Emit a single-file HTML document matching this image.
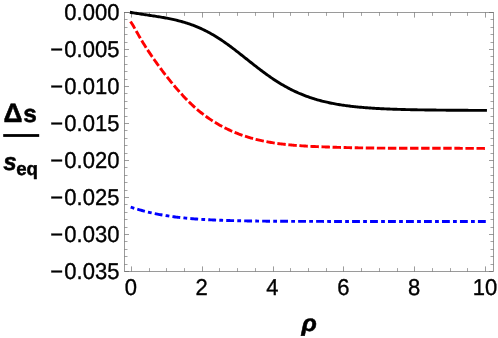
<!DOCTYPE html>
<html><head><meta charset="utf-8"><style>
html,body{margin:0;padding:0;background:#fff;}
svg{display:block;text-rendering:geometricPrecision;will-change:transform;font-family:"Liberation Sans",sans-serif;}
</style></head><body>
<svg width="498" height="338" viewBox="0 0 498 338">
<rect width="498" height="338" fill="#fff"/>
<rect x="124.5" y="12.5" width="369.0" height="259.0" fill="none" stroke="#666" stroke-width="0.65"/>
<path d="M131.50,271.5 v-5.1 M131.50,12.5 v5.1 M202.50,271.5 v-5.1 M202.50,12.5 v5.1 M273.50,271.5 v-5.1 M273.50,12.5 v5.1 M343.50,271.5 v-5.1 M343.50,12.5 v5.1 M414.50,271.5 v-5.1 M414.50,12.5 v5.1 M485.50,271.5 v-5.1 M485.50,12.5 v5.1 M124.5,12.50 h4.5 M493.5,12.50 h-4.5 M124.5,49.50 h4.5 M493.5,49.50 h-4.5 M124.5,86.50 h4.5 M493.5,86.50 h-4.5 M124.5,123.50 h4.5 M493.5,123.50 h-4.5 M124.5,160.50 h4.5 M493.5,160.50 h-4.5 M124.5,197.50 h4.5 M493.5,197.50 h-4.5 M124.5,234.50 h4.5 M493.5,234.50 h-4.5 M124.5,271.50 h4.5 M493.5,271.50 h-4.5" fill="none" stroke="#666" stroke-width="0.65"/>
<path d="M149.50,271.5 v-3.4 M149.50,12.5 v3.4 M166.50,271.5 v-3.4 M166.50,12.5 v3.4 M184.50,271.5 v-3.4 M184.50,12.5 v3.4 M219.50,271.5 v-3.4 M219.50,12.5 v3.4 M237.50,271.5 v-3.4 M237.50,12.5 v3.4 M255.50,271.5 v-3.4 M255.50,12.5 v3.4 M290.50,271.5 v-3.4 M290.50,12.5 v3.4 M308.50,271.5 v-3.4 M308.50,12.5 v3.4 M326.50,271.5 v-3.4 M326.50,12.5 v3.4 M361.50,271.5 v-3.4 M361.50,12.5 v3.4 M379.50,271.5 v-3.4 M379.50,12.5 v3.4 M397.50,271.5 v-3.4 M397.50,12.5 v3.4 M432.50,271.5 v-3.4 M432.50,12.5 v3.4 M450.50,271.5 v-3.4 M450.50,12.5 v3.4 M467.50,271.5 v-3.4 M467.50,12.5 v3.4 M124.5,19.50 h3.0 M493.5,19.50 h-3.0 M124.5,27.50 h3.0 M493.5,27.50 h-3.0 M124.5,34.50 h3.0 M493.5,34.50 h-3.0 M124.5,42.50 h3.0 M493.5,42.50 h-3.0 M124.5,56.50 h3.0 M493.5,56.50 h-3.0 M124.5,64.50 h3.0 M493.5,64.50 h-3.0 M124.5,71.50 h3.0 M493.5,71.50 h-3.0 M124.5,79.50 h3.0 M493.5,79.50 h-3.0 M124.5,93.50 h3.0 M493.5,93.50 h-3.0 M124.5,101.50 h3.0 M493.5,101.50 h-3.0 M124.5,108.50 h3.0 M493.5,108.50 h-3.0 M124.5,116.50 h3.0 M493.5,116.50 h-3.0 M124.5,130.50 h3.0 M493.5,130.50 h-3.0 M124.5,138.50 h3.0 M493.5,138.50 h-3.0 M124.5,145.50 h3.0 M493.5,145.50 h-3.0 M124.5,153.50 h3.0 M493.5,153.50 h-3.0 M124.5,167.50 h3.0 M493.5,167.50 h-3.0 M124.5,175.50 h3.0 M493.5,175.50 h-3.0 M124.5,182.50 h3.0 M493.5,182.50 h-3.0 M124.5,190.50 h3.0 M493.5,190.50 h-3.0 M124.5,204.50 h3.0 M493.5,204.50 h-3.0 M124.5,212.50 h3.0 M493.5,212.50 h-3.0 M124.5,219.50 h3.0 M493.5,219.50 h-3.0 M124.5,227.50 h3.0 M493.5,227.50 h-3.0 M124.5,241.50 h3.0 M493.5,241.50 h-3.0 M124.5,249.50 h3.0 M493.5,249.50 h-3.0 M124.5,256.50 h3.0 M493.5,256.50 h-3.0 M124.5,264.50 h3.0 M493.5,264.50 h-3.0" fill="none" stroke="#666" stroke-width="0.6"/>
<path d="M131.30,12.50 L132.48,12.71 L133.67,12.91 L134.85,13.10 L136.04,13.30 L137.22,13.49 L138.41,13.68 L139.59,13.86 L140.78,14.04 L141.96,14.23 L143.15,14.41 L144.33,14.58 L145.52,14.76 L146.70,14.94 L147.88,15.11 L149.07,15.29 L150.25,15.47 L151.44,15.64 L152.62,15.82 L153.81,16.00 L154.99,16.19 L156.18,16.37 L157.36,16.56 L158.55,16.75 L159.73,16.94 L160.92,17.14 L162.10,17.34 L163.28,17.55 L164.47,17.76 L165.65,17.97 L166.84,18.19 L168.02,18.42 L169.21,18.65 L170.39,18.89 L171.58,19.14 L172.76,19.40 L173.95,19.66 L175.13,19.93 L176.32,20.21 L177.50,20.49 L178.68,20.79 L179.87,21.10 L181.05,21.42 L182.24,21.74 L183.42,22.08 L184.61,22.43 L185.79,22.79 L186.98,23.16 L188.16,23.55 L189.35,23.95 L190.53,24.35 L191.72,24.78 L192.90,25.21 L194.08,25.66 L195.27,26.13 L196.45,26.61 L197.64,27.10 L198.82,27.60 L200.01,28.12 L201.19,28.66 L202.38,29.21 L203.56,29.78 L204.75,30.36 L205.93,30.96 L207.12,31.57 L208.30,32.19 L209.48,32.84 L210.67,33.49 L211.85,34.16 L213.04,34.85 L214.22,35.55 L215.41,36.27 L216.59,37.00 L217.78,37.75 L218.96,38.51 L220.15,39.28 L221.33,40.06 L222.52,40.86 L223.70,41.67 L224.88,42.50 L226.07,43.33 L227.25,44.18 L228.44,45.03 L229.62,45.90 L230.81,46.78 L231.99,47.66 L233.18,48.56 L234.36,49.46 L235.55,50.36 L236.73,51.28 L237.92,52.20 L239.10,53.13 L240.28,54.05 L241.47,54.99 L242.65,55.93 L243.84,56.86 L245.02,57.80 L246.21,58.75 L247.39,59.69 L248.58,60.63 L249.76,61.57 L250.95,62.51 L252.13,63.44 L253.32,64.37 L254.50,65.30 L255.68,66.23 L256.87,67.15 L258.05,68.06 L259.24,68.97 L260.42,69.87 L261.61,70.76 L262.79,71.64 L263.98,72.52 L265.16,73.39 L266.35,74.25 L267.53,75.09 L268.72,75.93 L269.90,76.76 L271.08,77.58 L272.27,78.38 L273.45,79.18 L274.64,79.96 L275.82,80.73 L277.01,81.49 L278.19,82.24 L279.38,82.97 L280.56,83.69 L281.75,84.40 L282.93,85.10 L284.12,85.78 L285.30,86.45 L286.48,87.10 L287.67,87.75 L288.85,88.38 L290.04,88.99 L291.22,89.60 L292.41,90.19 L293.59,90.77 L294.78,91.33 L295.96,91.88 L297.15,92.42 L298.33,92.95 L299.52,93.46 L300.70,93.96 L301.88,94.45 L303.07,94.93 L304.25,95.39 L305.44,95.85 L306.62,96.29 L307.81,96.72 L308.99,97.14 L310.18,97.54 L311.36,97.94 L312.55,98.33 L313.73,98.70 L314.92,99.07 L316.10,99.42 L317.28,99.77 L318.47,100.10 L319.65,100.43 L320.84,100.74 L322.02,101.05 L323.21,101.35 L324.39,101.64 L325.58,101.92 L326.76,102.19 L327.95,102.46 L329.13,102.72 L330.32,102.97 L331.50,103.21 L332.68,103.44 L333.87,103.67 L335.05,103.89 L336.24,104.10 L337.42,104.31 L338.61,104.51 L339.79,104.70 L340.98,104.89 L342.16,105.07 L343.35,105.25 L344.53,105.42 L345.72,105.59 L346.90,105.75 L348.08,105.90 L349.27,106.05 L350.45,106.20 L351.64,106.34 L352.82,106.48 L354.01,106.61 L355.19,106.73 L356.38,106.86 L357.56,106.98 L358.75,107.09 L359.93,107.20 L361.12,107.31 L362.30,107.42 L363.48,107.52 L364.67,107.61 L365.85,107.71 L367.04,107.80 L368.22,107.89 L369.41,107.97 L370.59,108.06 L371.78,108.14 L372.96,108.21 L374.15,108.29 L375.33,108.36 L376.52,108.43 L377.70,108.50 L378.88,108.56 L380.07,108.62 L381.25,108.68 L382.44,108.74 L383.62,108.80 L384.81,108.85 L385.99,108.91 L387.18,108.96 L388.36,109.01 L389.55,109.06 L390.73,109.10 L391.92,109.15 L393.10,109.19 L394.28,109.23 L395.47,109.27 L396.65,109.31 L397.84,109.35 L399.02,109.38 L400.21,109.42 L401.39,109.45 L402.58,109.49 L403.76,109.52 L404.95,109.55 L406.13,109.58 L407.32,109.61 L408.50,109.63 L409.68,109.66 L410.87,109.69 L412.05,109.71 L413.24,109.74 L414.42,109.76 L415.61,109.78 L416.79,109.80 L417.98,109.83 L419.16,109.85 L420.35,109.87 L421.53,109.89 L422.72,109.90 L423.90,109.92 L425.08,109.94 L426.27,109.96 L427.45,109.97 L428.64,109.99 L429.82,110.00 L431.01,110.02 L432.19,110.03 L433.38,110.05 L434.56,110.06 L435.75,110.07 L436.93,110.09 L438.12,110.10 L439.30,110.11 L440.48,110.12 L441.67,110.13 L442.85,110.15 L444.04,110.16 L445.22,110.17 L446.41,110.18 L447.59,110.19 L448.78,110.20 L449.96,110.20 L451.15,110.21 L452.33,110.22 L453.52,110.23 L454.70,110.24 L455.88,110.25 L457.07,110.26 L458.25,110.26 L459.44,110.27 L460.62,110.28 L461.81,110.29 L462.99,110.29 L464.18,110.30 L465.36,110.31 L466.55,110.31 L467.73,110.32 L468.92,110.33 L470.10,110.33 L471.28,110.34 L472.47,110.34 L473.65,110.35 L474.84,110.36 L476.02,110.36 L477.21,110.37 L478.39,110.37 L479.58,110.38 L480.76,110.38 L481.95,110.39 L483.13,110.39 L484.32,110.40 L485.50,110.40" fill="none" stroke="#000" stroke-width="2.9" stroke-linecap="square" stroke-linejoin="round"/>
<path d="M131.30,22.63 L132.48,24.60 L133.67,26.61 L134.85,28.65 L136.04,30.71 L137.22,32.79 L138.41,34.86 L139.59,36.92 L140.78,38.95 L141.96,40.95 L143.15,42.91 L144.33,44.83 L145.52,46.71 L146.70,48.55 L147.88,50.36 L149.07,52.15 L150.25,53.90 L151.44,55.64 L152.62,57.36 L153.81,59.06 L154.99,60.75 L156.18,62.41 L157.36,64.06 L158.55,65.70 L159.73,67.32 L160.92,68.92 L162.10,70.50 L163.28,72.07 L164.47,73.62 L165.65,75.15 L166.84,76.67 L168.02,78.17 L169.21,79.66 L170.39,81.13 L171.58,82.58 L172.76,84.02 L173.95,85.44 L175.13,86.84 L176.32,88.22 L177.50,89.59 L178.68,90.94 L179.87,92.27 L181.05,93.59 L182.24,94.88 L183.42,96.15 L184.61,97.41 L185.79,98.64 L186.98,99.86 L188.16,101.05 L189.35,102.23 L190.53,103.38 L191.72,104.51 L192.90,105.62 L194.08,106.70 L195.27,107.77 L196.45,108.81 L197.64,109.83 L198.82,110.82 L200.01,111.80 L201.19,112.75 L202.38,113.68 L203.56,114.59 L204.75,115.48 L205.93,116.35 L207.12,117.21 L208.30,118.04 L209.48,118.85 L210.67,119.65 L211.85,120.43 L213.04,121.19 L214.22,121.93 L215.41,122.65 L216.59,123.36 L217.78,124.06 L218.96,124.73 L220.15,125.40 L221.33,126.04 L222.52,126.68 L223.70,127.29 L224.88,127.90 L226.07,128.49 L227.25,129.07 L228.44,129.63 L229.62,130.18 L230.81,130.72 L231.99,131.24 L233.18,131.75 L234.36,132.25 L235.55,132.74 L236.73,133.21 L237.92,133.67 L239.10,134.13 L240.28,134.56 L241.47,134.99 L242.65,135.41 L243.84,135.81 L245.02,136.21 L246.21,136.59 L247.39,136.96 L248.58,137.33 L249.76,137.68 L250.95,138.02 L252.13,138.36 L253.32,138.68 L254.50,138.99 L255.68,139.30 L256.87,139.59 L258.05,139.88 L259.24,140.16 L260.42,140.43 L261.61,140.69 L262.79,140.94 L263.98,141.18 L265.16,141.42 L266.35,141.65 L267.53,141.87 L268.72,142.09 L269.90,142.29 L271.08,142.49 L272.27,142.69 L273.45,142.88 L274.64,143.06 L275.82,143.23 L277.01,143.40 L278.19,143.56 L279.38,143.72 L280.56,143.87 L281.75,144.02 L282.93,144.16 L284.12,144.29 L285.30,144.42 L286.48,144.55 L287.67,144.67 L288.85,144.79 L290.04,144.90 L291.22,145.01 L292.41,145.12 L293.59,145.22 L294.78,145.32 L295.96,145.41 L297.15,145.50 L298.33,145.59 L299.52,145.68 L300.70,145.76 L301.88,145.84 L303.07,145.91 L304.25,145.99 L305.44,146.06 L306.62,146.13 L307.81,146.19 L308.99,146.26 L310.18,146.32 L311.36,146.38 L312.55,146.43 L313.73,146.49 L314.92,146.54 L316.10,146.59 L317.28,146.64 L318.47,146.69 L319.65,146.74 L320.84,146.79 L322.02,146.83 L323.21,146.88 L324.39,146.92 L325.58,146.97 L326.76,147.01 L327.95,147.05 L329.13,147.09 L330.32,147.13 L331.50,147.17 L332.68,147.21 L333.87,147.24 L335.05,147.28 L336.24,147.31 L337.42,147.35 L338.61,147.38 L339.79,147.42 L340.98,147.45 L342.16,147.48 L343.35,147.51 L344.53,147.54 L345.72,147.57 L346.90,147.60 L348.08,147.62 L349.27,147.65 L350.45,147.68 L351.64,147.70 L352.82,147.73 L354.01,147.75 L355.19,147.77 L356.38,147.80 L357.56,147.82 L358.75,147.84 L359.93,147.86 L361.12,147.88 L362.30,147.90 L363.48,147.92 L364.67,147.94 L365.85,147.96 L367.04,147.97 L368.22,147.99 L369.41,148.01 L370.59,148.02 L371.78,148.04 L372.96,148.05 L374.15,148.07 L375.33,148.08 L376.52,148.09 L377.70,148.10 L378.88,148.12 L380.07,148.13 L381.25,148.14 L382.44,148.15 L383.62,148.16 L384.81,148.17 L385.99,148.18 L387.18,148.19 L388.36,148.20 L389.55,148.20 L390.73,148.21 L391.92,148.22 L393.10,148.23 L394.28,148.23 L395.47,148.24 L396.65,148.24 L397.84,148.25 L399.02,148.25 L400.21,148.26 L401.39,148.26 L402.58,148.27 L403.76,148.27 L404.95,148.28 L406.13,148.28 L407.32,148.28 L408.50,148.29 L409.68,148.29 L410.87,148.29 L412.05,148.29 L413.24,148.30 L414.42,148.30 L415.61,148.30 L416.79,148.30 L417.98,148.30 L419.16,148.30 L420.35,148.31 L421.53,148.31 L422.72,148.31 L423.90,148.31 L425.08,148.31 L426.27,148.31 L427.45,148.31 L428.64,148.31 L429.82,148.31 L431.01,148.31 L432.19,148.31 L433.38,148.31 L434.56,148.31 L435.75,148.31 L436.93,148.31 L438.12,148.31 L439.30,148.31 L440.48,148.31 L441.67,148.31 L442.85,148.31 L444.04,148.31 L445.22,148.31 L446.41,148.31 L447.59,148.31 L448.78,148.31 L449.96,148.31 L451.15,148.32 L452.33,148.32 L453.52,148.32 L454.70,148.32 L455.88,148.32 L457.07,148.32 L458.25,148.32 L459.44,148.32 L460.62,148.33 L461.81,148.33 L462.99,148.33 L464.18,148.33 L465.36,148.34 L466.55,148.34 L467.73,148.34 L468.92,148.35 L470.10,148.35 L471.28,148.35 L472.47,148.36 L473.65,148.36 L474.84,148.37 L476.02,148.37 L477.21,148.38 L478.39,148.38 L479.58,148.39 L480.76,148.40 L481.95,148.40 L483.13,148.41 L484.32,148.42 L485.50,148.42" fill="none" stroke="#f00" stroke-width="2.9" stroke-dasharray="5.536 5.536" stroke-linecap="square" stroke-linejoin="round"/>
<path d="M131.30,207.32 L132.48,207.70 L133.67,208.08 L134.85,208.45 L136.04,208.81 L137.22,209.17 L138.41,209.52 L139.59,209.86 L140.78,210.19 L141.96,210.52 L143.15,210.83 L144.33,211.15 L145.52,211.45 L146.70,211.75 L147.88,212.04 L149.07,212.32 L150.25,212.59 L151.44,212.86 L152.62,213.12 L153.81,213.38 L154.99,213.63 L156.18,213.87 L157.36,214.11 L158.55,214.34 L159.73,214.56 L160.92,214.78 L162.10,214.99 L163.28,215.19 L164.47,215.39 L165.65,215.59 L166.84,215.77 L168.02,215.96 L169.21,216.13 L170.39,216.31 L171.58,216.47 L172.76,216.64 L173.95,216.79 L175.13,216.95 L176.32,217.10 L177.50,217.24 L178.68,217.38 L179.87,217.51 L181.05,217.65 L182.24,217.77 L183.42,217.90 L184.61,218.02 L185.79,218.13 L186.98,218.24 L188.16,218.35 L189.35,218.46 L190.53,218.56 L191.72,218.66 L192.90,218.75 L194.08,218.84 L195.27,218.93 L196.45,219.02 L197.64,219.10 L198.82,219.18 L200.01,219.26 L201.19,219.34 L202.38,219.41 L203.56,219.48 L204.75,219.55 L205.93,219.62 L207.12,219.68 L208.30,219.74 L209.48,219.80 L210.67,219.86 L211.85,219.91 L213.04,219.97 L214.22,220.02 L215.41,220.07 L216.59,220.12 L217.78,220.17 L218.96,220.21 L220.15,220.26 L221.33,220.30 L222.52,220.34 L223.70,220.38 L224.88,220.42 L226.07,220.45 L227.25,220.49 L228.44,220.52 L229.62,220.56 L230.81,220.59 L231.99,220.62 L233.18,220.65 L234.36,220.68 L235.55,220.71 L236.73,220.73 L237.92,220.76 L239.10,220.79 L240.28,220.81 L241.47,220.83 L242.65,220.86 L243.84,220.88 L245.02,220.90 L246.21,220.92 L247.39,220.94 L248.58,220.96 L249.76,220.98 L250.95,220.99 L252.13,221.01 L253.32,221.03 L254.50,221.04 L255.68,221.06 L256.87,221.07 L258.05,221.09 L259.24,221.10 L260.42,221.12 L261.61,221.13 L262.79,221.14 L263.98,221.15 L265.16,221.16 L266.35,221.18 L267.53,221.19 L268.72,221.20 L269.90,221.21 L271.08,221.22 L272.27,221.23 L273.45,221.23 L274.64,221.24 L275.82,221.25 L277.01,221.26 L278.19,221.27 L279.38,221.27 L280.56,221.28 L281.75,221.29 L282.93,221.30 L284.12,221.30 L285.30,221.31 L286.48,221.31 L287.67,221.32 L288.85,221.33 L290.04,221.33 L291.22,221.34 L292.41,221.34 L293.59,221.35 L294.78,221.35 L295.96,221.36 L297.15,221.36 L298.33,221.36 L299.52,221.37 L300.70,221.37 L301.88,221.38 L303.07,221.38 L304.25,221.38 L305.44,221.39 L306.62,221.39 L307.81,221.39 L308.99,221.40 L310.18,221.40 L311.36,221.40 L312.55,221.41 L313.73,221.41 L314.92,221.41 L316.10,221.41 L317.28,221.42 L318.47,221.42 L319.65,221.42 L320.84,221.42 L322.02,221.42 L323.21,221.43 L324.39,221.43 L325.58,221.43 L326.76,221.43 L327.95,221.43 L329.13,221.44 L330.32,221.44 L331.50,221.44 L332.68,221.44 L333.87,221.44 L335.05,221.44 L336.24,221.44 L337.42,221.45 L338.61,221.45 L339.79,221.45 L340.98,221.45 L342.16,221.45 L343.35,221.45 L344.53,221.45 L345.72,221.45 L346.90,221.45 L348.08,221.46 L349.27,221.46 L350.45,221.46 L351.64,221.46 L352.82,221.46 L354.01,221.46 L355.19,221.46 L356.38,221.46 L357.56,221.46 L358.75,221.46 L359.93,221.46 L361.12,221.46 L362.30,221.46 L363.48,221.47 L364.67,221.47 L365.85,221.47 L367.04,221.47 L368.22,221.47 L369.41,221.47 L370.59,221.47 L371.78,221.47 L372.96,221.47 L374.15,221.47 L375.33,221.47 L376.52,221.47 L377.70,221.47 L378.88,221.47 L380.07,221.47 L381.25,221.47 L382.44,221.47 L383.62,221.47 L384.81,221.47 L385.99,221.47 L387.18,221.47 L388.36,221.47 L389.55,221.47 L390.73,221.47 L391.92,221.47 L393.10,221.47 L394.28,221.47 L395.47,221.48 L396.65,221.48 L397.84,221.48 L399.02,221.48 L400.21,221.48 L401.39,221.48 L402.58,221.48 L403.76,221.48 L404.95,221.48 L406.13,221.48 L407.32,221.48 L408.50,221.48 L409.68,221.48 L410.87,221.48 L412.05,221.48 L413.24,221.48 L414.42,221.48 L415.61,221.48 L416.79,221.48 L417.98,221.48 L419.16,221.48 L420.35,221.48 L421.53,221.48 L422.72,221.48 L423.90,221.48 L425.08,221.48 L426.27,221.48 L427.45,221.48 L428.64,221.48 L429.82,221.48 L431.01,221.48 L432.19,221.48 L433.38,221.48 L434.56,221.48 L435.75,221.48 L436.93,221.48 L438.12,221.48 L439.30,221.48 L440.48,221.48 L441.67,221.48 L442.85,221.48 L444.04,221.48 L445.22,221.48 L446.41,221.48 L447.59,221.48 L448.78,221.48 L449.96,221.48 L451.15,221.48 L452.33,221.48 L453.52,221.48 L454.70,221.48 L455.88,221.48 L457.07,221.48 L458.25,221.48 L459.44,221.48 L460.62,221.48 L461.81,221.48 L462.99,221.48 L464.18,221.48 L465.36,221.48 L466.55,221.48 L467.73,221.48 L468.92,221.48 L470.10,221.48 L471.28,221.48 L472.47,221.48 L473.65,221.48 L474.84,221.48 L476.02,221.48 L477.21,221.48 L478.39,221.48 L479.58,221.48 L480.76,221.48 L481.95,221.48 L483.13,221.48 L484.32,221.48 L485.50,221.48" fill="none" stroke="#00f" stroke-width="2.9" stroke-dasharray="0.9 6.02 4.96 6.1" stroke-dashoffset="-0.8" stroke-linecap="square" stroke-linejoin="round"/>
<g font-size="22" fill="#000" stroke="#000" stroke-width="0.35" opacity="0.999">
<text transform="translate(119.4,19.80) scale(1,1.04)" text-anchor="end">0.000</text>
<text transform="translate(119.4,56.50) scale(1,1.04)" text-anchor="end">0.005</text>
<text transform="translate(63.2,56.50) scale(1,1.04)" text-anchor="end">−</text>
<text transform="translate(119.4,93.50) scale(1,1.04)" text-anchor="end">0.010</text>
<text transform="translate(63.2,93.50) scale(1,1.04)" text-anchor="end">−</text>
<text transform="translate(119.4,130.50) scale(1,1.04)" text-anchor="end">0.015</text>
<text transform="translate(63.2,130.50) scale(1,1.04)" text-anchor="end">−</text>
<text transform="translate(119.4,167.50) scale(1,1.04)" text-anchor="end">0.020</text>
<text transform="translate(63.2,167.50) scale(1,1.04)" text-anchor="end">−</text>
<text transform="translate(119.4,204.50) scale(1,1.04)" text-anchor="end">0.025</text>
<text transform="translate(63.2,204.50) scale(1,1.04)" text-anchor="end">−</text>
<text transform="translate(119.4,241.50) scale(1,1.04)" text-anchor="end">0.030</text>
<text transform="translate(63.2,241.50) scale(1,1.04)" text-anchor="end">−</text>
<text transform="translate(119.4,278.50) scale(1,1.04)" text-anchor="end">0.035</text>
<text transform="translate(63.2,278.50) scale(1,1.04)" text-anchor="end">−</text>
<text transform="translate(130.80,294.9) scale(1,1.04)" text-anchor="middle">0</text>
<text transform="translate(201.64,294.9) scale(1,1.04)" text-anchor="middle">2</text>
<text transform="translate(272.48,294.9) scale(1,1.04)" text-anchor="middle">4</text>
<text transform="translate(343.32,294.9) scale(1,1.04)" text-anchor="middle">6</text>
<text transform="translate(414.16,294.9) scale(1,1.04)" text-anchor="middle">8</text>
<text transform="translate(485.00,294.9) scale(1,1.04)" text-anchor="middle">10</text>
</g>
<g font-weight="bold" fill="#000" stroke="#000" stroke-width="0.5" stroke-linejoin="round">
<text x="3.5" y="121.9" font-size="26.4">Δ</text>
<text x="23.3" y="121.8" font-size="24.4">s</text>
<rect x="3.2" y="134.1" width="36" height="2.8" stroke="none"/>
<text x="3.2" y="170.3" font-size="24.2" font-style="italic">s</text>
<text x="16.2" y="174.9" font-size="18.7">eq</text>
<text transform="translate(301.4,330.5) scale(1.08,1)" font-size="23.4" font-style="italic">ρ</text>
</g>
</svg>
</body></html>
